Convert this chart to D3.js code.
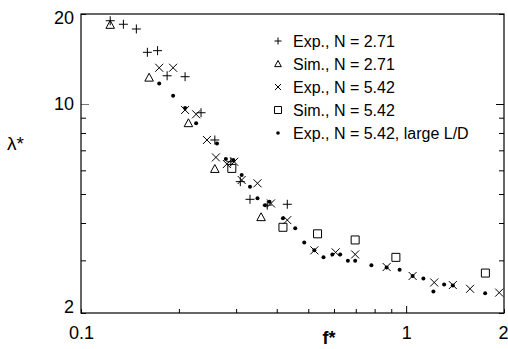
<!DOCTYPE html>
<html>
<head>
<meta charset="utf-8">
<script src="https://cdn.jsdelivr.net/npm/d3@7"></script>
<style>
  body { margin: 0; background: #fff; }
  svg { display: block; font-family: "Liberation Sans", Arial, sans-serif; }
</style>
</head>
<body>
<svg id="chart" width="508" height="349"></svg>
<script>
// data (f*, lambda*)
const expN271F = [0.123, 0.135, 0.148, 0.160, 0.172, 0.184, 0.209, 0.234, 0.258, 0.289, 0.309, 0.331, 0.374, 0.431];
const expN271L = [18.99, 18.48, 17.82, 14.89, 15.08, 12.43, 12.34, 9.35, 7.58, 6.41, 5.50, 4.80, 4.59, 4.62];

const simN271F = [0.123, 0.162, 0.214, 0.258, 0.358];
const simN271L = [18.38, 12.24, 8.62, 6.06, 4.18];

const expN542F = [0.174, 0.192, 0.209, 0.226, 0.244, 0.260, 0.281, 0.296, 0.312, 0.349, 0.384, 0.431, 0.522, 0.607, 0.697, 0.871, 1.047, 1.220, 1.392, 1.573, 1.933];
const expN542L = [13.22, 13.22, 9.55, 9.24, 7.58, 6.63, 6.30, 6.41, 5.57, 5.43, 4.65, 4.09, 3.24, 3.19, 3.14, 2.85, 2.66, 2.53, 2.48, 2.41, 2.34];

const simN542F = [0.291, 0.418, 0.534, 0.697, 0.930, 1.753];
const simN542L = [6.09, 3.87, 3.68, 3.51, 3.07, 2.72];

const largeLDF = [0.174, 0.192, 0.209, 0.226, 0.262, 0.279, 0.294, 0.312, 0.331, 0.349, 0.368, 0.380, 0.418, 0.456, 0.486, 0.522, 0.557, 0.593, 0.627, 0.662, 0.697, 0.782, 0.871, 0.955, 1.047, 1.130, 1.213, 1.309, 1.392, 1.750];
const largeLDL = [11.72, 10.66, 9.70, 8.62, 7.38, 6.55, 6.50, 5.79, 5.29, 4.84, 4.59, 4.71, 4.15, 3.84, 3.44, 3.24, 3.07, 3.14, 3.14, 2.99, 2.99, 2.89, 2.84, 2.79, 2.66, 2.61, 2.36, 2.49, 2.47, 2.33];

const legendLabels = ['Exp., N = 2.71', 'Sim., N = 2.71', 'Exp., N = 5.42', 'Sim., N = 5.42', 'Exp., N = 5.42, large L/D'];

const xTicks = [0.1, 0.2, 0.3, 0.4, 0.5, 0.6, 0.7, 0.8, 0.9, 1, 2];
const xTickLabels = [0.1, 1, 2];
const yTicks = [2, 3, 4, 5, 6, 7, 8, 9, 10, 20];
const yTickLabels = [2, 10, 20];

const margin = { top: 14, right: 4, bottom: 36, left: 81 };
const width = 508, height = 349;

const svg = d3.select('#chart');

const x = d3.scaleLog().domain([0.1, 2]).range([margin.left, width - margin.right]);
const y = d3.scaleLog().domain([2, 20]).range([height - margin.bottom, margin.top]);

// marker shapes, all outline-only except the dot
const markers = {
  plus: s => `M${-s},0H${s}M0,${-s}V${s}`,
  tri: s => `M0,${-s}L${s * 0.95},${s * 0.75}L${-s * 0.95},${s * 0.75}Z`,
  cross: s => `M${-s},${-s}L${s},${s}M${-s},${s}L${s},${-s}`,
  square: s => `M${-s},${-s}H${s}V${s}H${-s}Z`
};

const series = [
  { f: expN271F, l: expN271L, shape: 'plus', size: 4.5, legendSize: 3.5 },
  { f: simN271F, l: simN271L, shape: 'tri', size: 4.5, legendSize: 3.5 },
  { f: expN542F, l: expN542L, shape: 'cross', size: 4, legendSize: 3 },
  { f: simN542F, l: simN542L, shape: 'square', size: 4, legendSize: 3.5 },
  { f: largeLDF, l: largeLDL, shape: 'dot', size: 2, legendSize: 1.8 }
];

// axes
const yAxis = svg.append('g')
  .attr('transform', `translate(${margin.left},0)`)
  .call(d3.axisLeft(y)
    .tickValues(yTicks)
    .tickSizeInner(-5)
    .tickSizeOuter(0)
    .tickPadding(7)
    .tickFormat(d => yTickLabels.includes(d) ? d : ''));

const yAxisR = svg.append('g')
  .attr('transform', `translate(${width - margin.right},0)`)
  .call(d3.axisRight(y)
    .tickValues(yTicks)
    .tickSizeInner(-5)
    .tickSizeOuter(0)
    .tickFormat(''));

const xAxis = svg.append('g')
  .attr('transform', `translate(0,${height - margin.bottom})`)
  .call(d3.axisBottom(x)
    .tickValues(xTicks)
    .tickSizeInner(-4)
    .tickSizeOuter(0)
    .tickPadding(13)
    .tickFormat(d => xTickLabels.includes(d) ? d : ''));

[yAxis, yAxisR, xAxis].forEach(g => {
  g.select('.domain').remove();
  g.selectAll('.tick line').attr('stroke', '#000').attr('stroke-width', 1);
  g.selectAll('text').attr('font-size', 18).attr('fill', '#000')
    .attr('font-family', '"Liberation Sans", Arial, sans-serif');
});

// decade ticks a bit longer
yAxis.selectAll('.tick').filter(d => d === 10).select('line').attr('x2', 8).attr('stroke', '#777');
yAxisR.selectAll('.tick').filter(d => d === 10).select('line').attr('x2', -8);
xAxis.selectAll('.tick').filter(d => d === 1).select('line').attr('y2', -7);

// keep the end labels inside the frame like the original
yAxis.selectAll('.tick').filter(d => d === 20).select('text').attr('dy', '0.55em');
yAxis.selectAll('.tick').filter(d => d === 2).select('text').attr('dy', '-0.05em');
xAxis.selectAll('.tick').filter(d => d === 2).select('text').attr('text-anchor', 'end').attr('x', 4);

// frame
svg.append('rect')
  .attr('x', x.range()[0])
  .attr('y', y.range()[1])
  .attr('width', x.range()[1] - x.range()[0])
  .attr('height', y.range()[0] - y.range()[1])
  .attr('fill', 'none')
  .attr('stroke', '#000')
  .attr('stroke-width', 1.2);

// axis titles
svg.append('text')
  .attr('x', 7)
  .attr('y', 150)
  .attr('font-size', 19)
  .text('λ*');

svg.append('text')
  .attr('x', 329)
  .attr('y', 344)
  .attr('text-anchor', 'middle')
  .attr('font-size', 18)
  .attr('font-weight', 'bold')
  .text('f*');

// points
function drawMarker(sel, s, size) {
  if (s.shape === 'dot') {
    sel.append('circle').attr('r', size).attr('fill', '#000');
  } else {
    sel.append('path')
      .attr('d', markers[s.shape](size))
      .attr('fill', 'none')
      .attr('stroke', '#000')
      .attr('stroke-width', 1);
  }
}

series.forEach(s => {
  const pts = s.f.map((f, i) => ({ f, l: s.l[i] }));
  const g = svg.append('g');
  g.selectAll('g')
    .data(pts)
    .join('g')
    .attr('transform', d => `translate(${x(d.f)},${y(d.l)})`)
    .each(function () { drawMarker(d3.select(this), s, s.size); });
});

// legend
const legend = svg.append('g').attr('transform', 'translate(278,41)');
legendLabels.forEach((label, i) => {
  const row = legend.append('g').attr('transform', `translate(0,${i * 23})`);
  drawMarker(row, series[i], series[i].legendSize);
  row.append('text')
    .attr('x', 15)
    .attr('dy', '0.35em')
    .attr('font-size', 16)
    .text(label);
});
</script>
</body>
</html>
